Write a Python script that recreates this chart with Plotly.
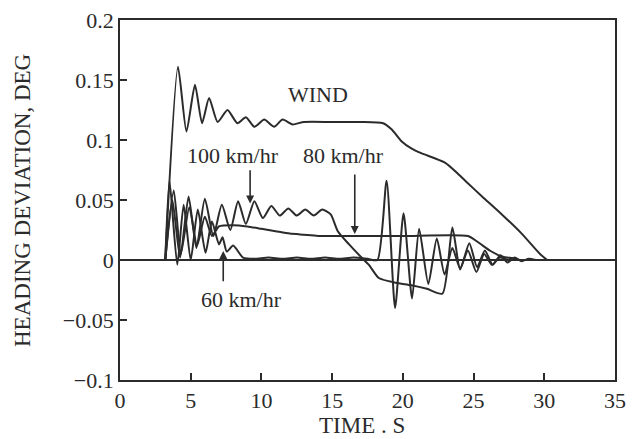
import plotly.graph_objects as go

# ---- data ----
wind_t = [3.2, 4.1, 4.7, 5.3, 5.8, 6.3, 6.9, 7.6, 8.3, 8.9, 9.5, 10.2, 10.9, 11.5, 12.2, 13.0,
          15.0, 17.0, 18.6, 19.2, 19.9, 20.6, 21.3, 22.2, 23.0, 23.8, 24.5, 25.6, 27.0, 28.4, 29.7, 30.2]
wind_y = [0.0, 0.161, 0.107, 0.146, 0.114, 0.135, 0.115, 0.125, 0.114, 0.119, 0.111, 0.117, 0.111,
          0.117, 0.113, 0.115, 0.115, 0.115, 0.114, 0.109, 0.099, 0.093, 0.089, 0.085, 0.081,
          0.073, 0.065, 0.053, 0.038, 0.022, 0.005, 0.0]

v100_t = [3.2, 3.7, 4.25, 4.85, 5.4, 6.0, 6.6, 7.2, 7.8, 8.35, 8.9, 9.5, 10.1, 10.7, 11.3, 11.9,
          12.5, 13.1, 13.7, 14.3, 14.9, 15.4, 16.2, 17.0, 17.6, 18.3, 19.5, 20.6, 21.7, 22.8, 23.5,
          24.05, 24.7, 25.25, 25.8, 26.35, 26.9, 27.4, 27.9, 28.4, 28.9, 29.4]
v100_y = [0.0, 0.050, 0.002, 0.053, 0.010, 0.051, 0.020, 0.046, 0.025, 0.049, 0.030, 0.049, 0.035,
          0.045, 0.037, 0.043, 0.037, 0.042, 0.037, 0.042, 0.038, 0.024, 0.013, 0.003, -0.004,
          -0.015, -0.019, -0.021, -0.024, -0.028, 0.027, -0.008, 0.014, -0.006, 0.008, -0.004,
          0.004, -0.002, 0.002, -0.001, 0.001, 0.0]

v80_t = [3.2, 3.8, 4.3, 4.9, 5.45, 6.0, 6.5, 7.0, 8.0, 9.0, 10.0, 11.0, 12.0, 13.0, 14.0, 16.0,
         20.0, 24.6, 25.3, 26.2, 27.0, 28.0]
v80_y = [0.0, 0.058, 0.005, 0.044, 0.012, 0.036, 0.020, 0.028, 0.029, 0.028, 0.026, 0.024, 0.022,
         0.021, 0.020, 0.020, 0.020, 0.020, 0.015, 0.0075, 0.003, 0.001]

v60_t = [3.2, 3.5, 4.05, 4.5, 5.0, 5.5, 6.05, 6.5, 7.0, 7.25, 7.55, 8.0, 8.7, 9.5, 10.5, 11.5,
         12.5, 13.5, 14.5, 15.5, 16.5, 17.5, 18.2, 18.85, 19.45, 20.05, 20.65, 21.15, 21.8, 22.4,
         22.95, 23.5, 24.05, 24.6, 25.2, 25.75, 26.3, 26.85, 27.5, 28.2]
v60_y = [0.0, 0.066, -0.004, 0.046, 0.0, 0.042, 0.006, 0.032, 0.013, 0.019, 0.007, 0.012, 0.002,
         0.001, 0.002, 0.001, 0.002, 0.001, 0.002, 0.001, 0.002, 0.001, 0.0, 0.066, -0.040, 0.039,
         -0.032, 0.026, -0.020, 0.018, -0.012, 0.010, -0.007, 0.008, -0.010, 0.005, -0.004, 0.002,
         0.0, 0.0]

y_ticks = [-0.1, -0.05, 0, 0.05, 0.1, 0.15, 0.2]
y_ticktext = ["\u22120.1", "\u22120.05", "0", "0.05", "0.1", "0.15", "0.2"]
x_ticks = [0, 5, 10, 15, 20, 25, 30, 35]

INK = "#2b2b2b"
FONT = "Liberation Serif"

fig = go.Figure()
for name, t, y in [("WIND", wind_t, wind_y), ("100 km/hr", v100_t, v100_y),
                   ("80 km/hr", v80_t, v80_y), ("60 km/hr", v60_t, v60_y)]:
    fig.add_trace(go.Scatter(x=t, y=y, mode="lines", name=name,
                             line=dict(color=INK, width=2.0, shape="spline", smoothing=0.6)))

labels = [("WIND", 14.0, 0.138), ("100 km/hr", 8.0, 0.0867),
          ("80 km/hr", 15.8, 0.0867), ("60 km/hr", 8.6, -0.0325)]
for txt, x, y in labels:
    fig.add_annotation(x=x, y=y, text=txt, showarrow=False,
                       xanchor="center", yanchor="middle",
                       font=dict(family=FONT, size=22, color=INK))

arrows = [(9.2, 0.047, 9.2, 0.076), (16.6, 0.0217, 16.6, 0.0725), (7.3, 0.0075, 7.3, -0.019)]
for x, y, ax, ay in arrows:
    fig.add_annotation(x=x, y=y, ax=ax, ay=ay, xref="x", yref="y", axref="x", ayref="y",
                       text="", showarrow=True, arrowhead=2, arrowsize=1.0,
                       arrowwidth=1.6, arrowcolor=INK)

fig.add_annotation(x=0.489, y=-0.125, xref="paper", yref="paper", text="TIME . S",
                   xanchor="center", yanchor="middle",
                   showarrow=False, font=dict(family=FONT, size=23, color=INK))
fig.add_annotation(x=-0.198, y=0.5, xref="paper", yref="paper", text="HEADING DEVIATION, DEG",
                   xanchor="center", yanchor="middle",
                   textangle=-90, showarrow=False, font=dict(family=FONT, size=23, color=INK))

# the page places the figure 8px from the window's corner
fig.update_layout(
    width=633, height=431,
    margin=dict(l=112, r=26, t=12, b=59, autoexpand=False),
    paper_bgcolor="white", plot_bgcolor="white",
    showlegend=False,
    font=dict(family=FONT, size=22, color=INK),
)
fig.update_xaxes(range=[0, 35], tickvals=x_ticks, ticks="inside", ticklen=7, tickwidth=1.5,
                 tickcolor=INK, showline=True, linecolor=INK, linewidth=1.8, mirror=True,
                 showgrid=False, zeroline=False, automargin=False, ticklabeloverflow="allow")
fig.update_yaxes(range=[-0.1, 0.2], tickvals=y_ticks, ticktext=y_ticktext, ticks="inside",
                 ticklen=7, tickwidth=1.5, tickcolor=INK, showline=True, linecolor=INK,
                 linewidth=1.8, mirror=True, showgrid=False, zeroline=True,
                 zerolinecolor=INK, zerolinewidth=1.6, automargin=False,
                 ticklabeloverflow="allow")

fig.write_html("out.html")
